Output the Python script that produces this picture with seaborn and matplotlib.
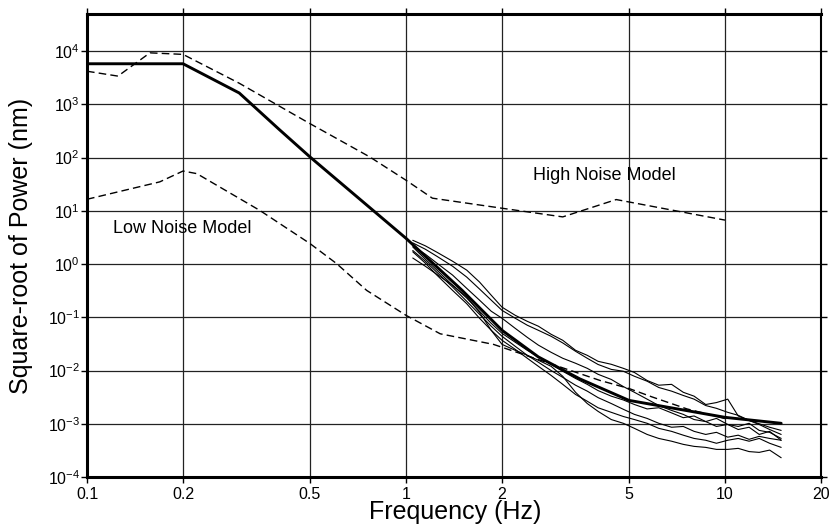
import numpy as np
import pandas as pd
import matplotlib
matplotlib.use("Agg")
import matplotlib.pyplot as plt
import seaborn as sns

# ---------------- data ----------------
freq_mean = [0.1, 0.2, 0.3, 0.4, 0.5, 1.0, 1.5, 2.0, 2.6, 3.5, 5.0, 10.0, 15.0]
power_mean = [5.8e3, 5.8e3, 1.64e3, 340, 103, 3.05, 0.32, 0.057, 0.018, 7.0e-3, 2.75e-3, 1.32e-3, 1.02e-3]

freq_hnm = [0.1, 0.125, 0.1575, 0.2, 0.3, 0.5, 0.77, 1.0, 1.21, 2.0, 3.1, 4.56, 10.0]
power_hnm = [4.2e3, 3.4e3, 9.3e3, 8.7e3, 2.5e3, 435, 103, 37.6, 17.3, 11.2, 7.7, 16.3, 6.7]

freq_lnm = [0.1, 0.169, 0.2, 0.221, 0.348, 0.5, 0.606, 0.753, 1.0, 1.28, 1.88, 4.06, 5.0, 5.9, 7.6, 8.7, 10.0]
power_lnm = [16.5, 35, 56, 50, 10.2, 2.43, 1.02, 0.32, 0.109, 0.049, 0.031, 6.5e-3, 4.6e-3, 3.2e-3, 1.9e-3, 1.55e-3, 1.25e-3]

freq_thin = [1.05, 1.15, 1.25, 1.4, 1.55, 1.7, 1.85, 2.0, 2.2, 2.4, 2.6, 2.85, 3.1, 3.4, 3.7, 4.0,
             4.4, 4.8, 5.2, 5.7, 6.2, 6.8, 7.4, 8.0, 8.7, 9.4, 10.2, 11.0, 11.9, 12.8, 13.8, 15.0]
trace_1 = [2.8, 2.2, 1.67, 1.13, 0.77, 0.46, 0.26, 0.155, 0.109, 0.084, 0.068, 0.048, 0.037, 0.024, 0.0193, 0.0149,
           0.0131, 0.011, 9.2e-3, 6.5e-3, 5.3e-3, 5.5e-3, 3.9e-3, 3.3e-3, 2.3e-3, 2.5e-3, 2.9e-3, 1.4e-3, 1.15e-3, 9.7e-4, 7.8e-4, 6.3e-4]
trace_2 = [2.5, 1.9, 1.4, 0.91, 0.57, 0.34, 0.21, 0.135, 0.096, 0.071, 0.057, 0.044, 0.033, 0.023, 0.017, 0.013,
           0.0105, 9.7e-3, 7.8e-3, 6.3e-3, 4.8e-3, 4.1e-3, 3.4e-3, 2.9e-3, 2.2e-3, 1.95e-3, 1.64e-3, 1.44e-3, 1.16e-3, 1.0e-3, 8.6e-4, 7.5e-4]
trace_3 = [2.2, 1.53, 1.04, 0.62, 0.35, 0.21, 0.13, 0.096, 0.062, 0.042, 0.030, 0.022, 0.017, 0.0137, 0.011, 8.5e-3,
           6.8e-3, 5.0e-3, 3.9e-3, 2.9e-3, 2.2e-3, 1.78e-3, 1.5e-3, 1.2e-3, 1.1e-3, 1.26e-3, 9.7e-4, 8.9e-4, 1.02e-3, 7.5e-4, 6.9e-4, 5.3e-4]
trace_4 = [2.1, 1.23, 0.77, 0.40, 0.23, 0.13, 0.077, 0.050, 0.034, 0.024, 0.018, 0.013, 9.7e-3, 7.1e-3, 5.5e-3, 4.2e-3,
           3.3e-3, 2.8e-3, 2.3e-3, 1.9e-3, 2.0e-3, 1.6e-3, 1.3e-3, 1.4e-3, 1.1e-3, 8.9e-4, 9.7e-4, 7.8e-4, 8.6e-4, 6.3e-4, 7.2e-4, 4.9e-4]
trace_5 = [1.8, 1.13, 0.70, 0.37, 0.20, 0.114, 0.068, 0.044, 0.0285, 0.0193, 0.0143, 0.010, 7.45e-3, 5.3e-3, 4.1e-3, 3.1e-3,
           2.4e-3, 1.87e-3, 1.5e-3, 1.26e-3, 1.02e-3, 8.6e-4, 8.9e-4, 7.2e-4, 6.3e-4, 6.9e-4, 5.6e-4, 6.1e-4, 5.1e-4, 5.8e-4, 5.3e-4, 4.9e-4]
trace_6 = [1.7, 1.04, 0.62, 0.32, 0.18, 0.096, 0.057, 0.037, 0.025, 0.017, 0.012, 8.1e-3, 5.5e-3, 3.55e-3, 2.65e-3, 2.0e-3,
           1.64e-3, 1.37e-3, 1.2e-3, 1.02e-3, 8.2e-4, 7.2e-4, 6.1e-4, 5.3e-4, 4.9e-4, 4.3e-4, 4.9e-4, 5.3e-4, 4.7e-4, 5.3e-4, 4.3e-4, 3.6e-4]
trace_7 = [1.3, 0.91, 0.64, 0.40, 0.24, 0.124, 0.057, 0.031, 0.024, 0.0193, 0.0156, 0.012, 7.8e-3, 3.9e-3, 2.4e-3, 1.71e-3,
           1.2e-3, 1.02e-3, 8.2e-4, 6.3e-4, 5.3e-4, 4.7e-4, 4.1e-4, 3.76e-4, 3.6e-4, 3.3e-4, 3.3e-4, 3.45e-4, 3.0e-4, 2.9e-4, 3.2e-4, 2.3e-4]
traces = [trace_1, trace_2, trace_3, trace_4, trace_5, trace_6, trace_7]

xtick_values = [0.1, 0.2, 0.5, 1, 2, 5, 10, 20]
xtick_labels = ["0.1", "0.2", "0.5", "1", "2", "5", "10", "20"]
ytick_exponents = [-4, -3, -2, -1, 0, 1, 2, 3, 4]

label_high = "High Noise Model"
label_low = "Low Noise Model"

# ---------------- plotting ----------------
sns.set_theme(style="white")
plt.rcParams["font.family"] = ["Liberation Sans", "DejaVu Sans"]
plt.rcParams["mathtext.fontset"] = "custom"
plt.rcParams["mathtext.rm"] = "Liberation Sans"
plt.rcParams["mathtext.default"] = "regular"

fig = plt.figure(figsize=(8.31, 5.27), dpi=100)
ax = fig.add_axes([0.1047, 0.0949, 0.8833, 0.8786])
ax.set_xscale("log")
ax.set_yscale("log")

thin_df = pd.concat(
    [pd.DataFrame({"freq": freq_thin, "power": tr, "trace": i}) for i, tr in enumerate(traces)],
    ignore_index=True,
)
sns.lineplot(data=thin_df, x="freq", y="power", units="trace", estimator=None, sort=False,
             color="black", lw=0.8, ax=ax, legend=False)

sns.lineplot(x=freq_hnm, y=power_hnm, color="black", lw=1.0, dashes=False, ax=ax, sort=False,
             estimator=None).lines[-1].set_dashes((5.5, 3))
sns.lineplot(x=freq_lnm, y=power_lnm, color="black", lw=1.0, ax=ax, sort=False,
             estimator=None).lines[-1].set_dashes((5.5, 3))
sns.lineplot(x=freq_mean, y=power_mean, color="black", lw=2.1, ax=ax, sort=False, estimator=None)

ax.set_xlim(0.1, 20)
ax.set_ylim(1e-4, 5e4)
ax.set_xticks(xtick_values)
ax.set_xticklabels(xtick_labels)
yt = [10.0 ** e for e in ytick_exponents]
ax.set_yticks(yt)
ax.set_yticklabels([r"$10^{%d}$" % e for e in ytick_exponents])
ax.minorticks_off()

ax.grid(True, which="major", color="#222222", lw=0.9)
for side, lw in [("left", 2.2), ("bottom", 2.2), ("top", 2.2), ("right", 1.5)]:
    ax.spines[side].set_visible(True)
    ax.spines[side].set_linewidth(lw)
    ax.spines[side].set_color("black")

ax.tick_params(axis="both", which="major", direction="out", length=4, width=1, color="black",
               labelsize=11.5, labelcolor="black", top=True, right=True, left=True, bottom=True)
ax.tick_params(axis="y", pad=1)
ax.tick_params(axis="x", pad=3)

ax.set_xlabel("Frequency (Hz)", fontsize=18, color="black")
ax.set_ylabel("Square-root of Power (nm)", fontsize=18, color="black")
ax.xaxis.set_label_coords(0.501, -0.05)
ax.yaxis.set_label_coords(-0.074, 0.5)

ax.text(2.5, 46.7, label_high, fontsize=13, ha="left", va="center", color="black")
ax.text(0.1206, 4.7, label_low, fontsize=13, ha="left", va="center", color="black")

fig.savefig("out.png", dpi=100, facecolor="white")
